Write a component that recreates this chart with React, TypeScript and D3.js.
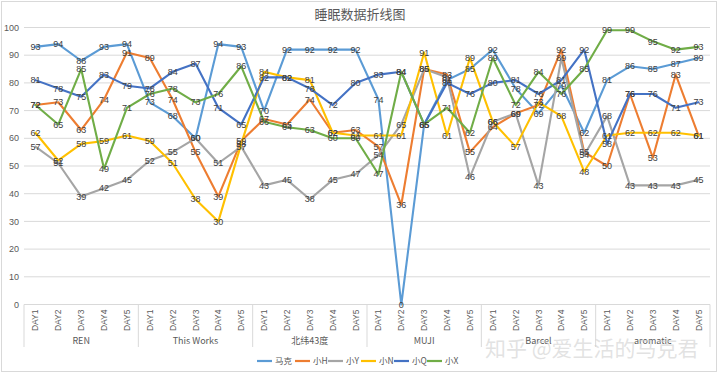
import React from "react";
import * as d3 from "d3";

const groups = ["REN", "This Works", "北纬43度", "MUJI", "Barcel", "aromatic"];
const days = ["DAY1", "DAY2", "DAY3", "DAY4", "DAY5"];
const seriesNames = ["马克", "小H", "小Y", "小N", "小Q", "小X"];
const colors = ["#5B9BD5", "#ED7D31", "#A5A5A5", "#FFC000", "#4472C4", "#70AD47"];

const makeValues = [93, 94, 88, 93, 94, 73, 68, 60, 94, 93, 70, 92, 92, 92, 92, 74, 0, 65, 81, 85, 92, 78, 69, 79, 62, 81, 86, 85, 87, 89];
const hValues = [72, 73, 63, 74, 91, 89, 74, 55, 39, 59, 67, 65, 74, 62, 63, 57, 36, 85, 83, 55, 64, 69, 72, 92, 55, 50, 76, 53, 83, 61];
const yValues = [57, 51, 39, 42, 45, 52, 55, 60, 51, 57, 43, 45, 38, 45, 47, 54, 65, 85, 82, 46, 66, 69, 43, 89, 54, 68, 43, 43, 43, 45];
const nValues = [62, 52, 58, 59, 61, 59, 51, 38, 30, 58, 84, 82, 81, 62, 61, 61, 61, 91, 61, 89, 66, 57, 73, 68, 48, 61, 62, 62, 62, 61];
const qValues = [81, 78, 75, 83, 79, 78, 84, 87, 71, 65, 82, 82, 78, 72, 80, 83, 84, 65, 80, 76, 80, 81, 76, 81, 92, 58, 76, 76, 71, 73];
const xValues = [72, 65, 85, 49, 71, 76, 78, 73, 76, 86, 66, 64, 63, 60, 60, 47, 84, 65, 71, 62, 89, 72, 84, 76, 85, 99, 99, 95, 92, 93];

const seriesValues = [makeValues, hValues, yValues, nValues, qValues, xValues];
const yTicks = [0, 10, 20, 30, 40, 50, 60, 70, 80, 90, 100];

const W = 720;
const H = 375;
const plotLeft = 24;
const plotRight = 710;
const plotTop = 27.5;
const plotBottom = 304.5;

export default function App() {
  const keys: string[] = [];
  groups.forEach((g) => days.forEach((d) => keys.push(g + "|" + d)));

  const x = d3.scaleBand<string>().domain(keys).range([plotLeft, plotRight]);
  const y = d3.scaleLinear().domain([0, 100]).range([plotBottom, plotTop]);
  const cx = (i: number) => (x(keys[i]) as number) + x.bandwidth() / 2;

  const line = d3
    .line<number>()
    .x((_, i) => cx(i))
    .y((v) => y(v));

  const groupW = x.bandwidth() * days.length;
  const font = "'Liberation Sans', Arial, 'Noto Sans CJK SC', sans-serif";
  const cjk = "'Noto Sans CJK SC', 'Liberation Sans', sans-serif";

  const legendX = [257, 295, 328, 361, 394, 427];

  return (
    <svg
      width={W}
      height={H}
      style={{ position: "fixed", left: 0, top: 0, background: "#fff" }}
      fontFamily={font}
    >
      <rect x={1.5} y={1.5} width={715} height={370} fill="#fff" stroke="#d9d9d9" />
      <text x={360} y={19} textAnchor="middle" fontSize={13} fill="#595959" fontFamily={cjk}>
        睡眠数据折线图
      </text>

      {yTicks.map((t) => (
        <g key={t}>
          <line x1={plotLeft} x2={plotRight} y1={y(t)} y2={y(t)} stroke="#d9d9d9" strokeWidth={1} />
          <text x={19} y={y(t)} dy="0.35em" textAnchor="end" fontSize={9} fill="#595959">
            {t}
          </text>
        </g>
      ))}

      {keys.map((k, i) => (
        <text
          key={k}
          transform={`translate(${cx(i) + 3},${plotBottom + 5}) rotate(-90)`}
          textAnchor="end"
          fontSize={8.5}
          fill="#595959"
        >
          {days[i % days.length]}
        </text>
      ))}

      {d3.range(groups.length + 1).map((gi) => {
        const gx = plotLeft + gi * groupW;
        return <line key={gi} x1={gx} x2={gx} y1={plotBottom} y2={347} stroke="#d9d9d9" />;
      })}
      {groups.map((g, gi) => (
        <text
          key={g}
          x={plotLeft + gi * groupW + groupW / 2}
          y={341}
          dy="0.35em"
          textAnchor="middle"
          fontSize={9}
          fill="#595959"
          fontFamily={cjk}
        >
          {g}
        </text>
      ))}

      {seriesValues.map((vals, si) => (
        <path
          key={si}
          d={line(vals) || ""}
          fill="none"
          stroke={colors[si]}
          strokeWidth={2.1}
          strokeLinejoin="round"
          strokeLinecap="round"
        />
      ))}

      {seriesValues.map((vals, si) =>
        vals.map((v, i) => (
          <text
            key={si + "-" + i}
            x={cx(i)}
            y={y(v)}
            dy="0.35em"
            textAnchor="middle"
            fontSize={9}
            fill="#404040"
          >
            {v}
          </text>
        ))
      )}

      {seriesNames.map((n, si) => (
        <g key={n} transform={`translate(${legendX[si]},361)`}>
          <line x1={0} x2={15} y1={0} y2={0} stroke={colors[si]} strokeWidth={2.2} />
          <text x={18} y={0} dy="0.35em" fontSize={8.5} fill="#595959" fontFamily={cjk}>
            {n}
          </text>
        </g>
      ))}

      <text
        x={485}
        y={356}
        fontSize={21}
        fill="#cfcfcf"
        fillOpacity={0.6}
        fontFamily={cjk}
      >
        知乎 @爱生活的马克君
      </text>
    </svg>
  );
}
